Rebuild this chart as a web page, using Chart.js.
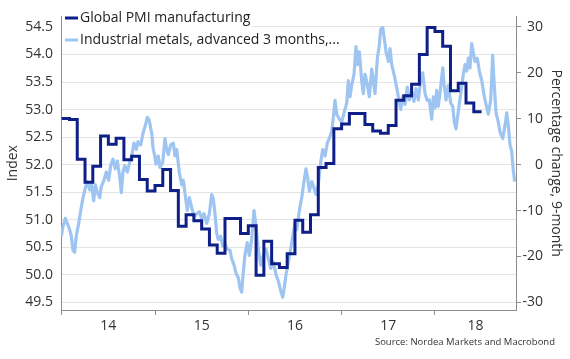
<!DOCTYPE html>
<html><head><meta charset="utf-8">
<script src="https://cdn.jsdelivr.net/npm/chart.js@4.4.0/dist/chart.umd.min.js"></script>
<style>html,body{margin:0;padding:0;background:#fff;}#wrap{width:570px;height:359px;position:relative;}</style>
</head><body><div id="wrap"><canvas id="c" width="570" height="359"></canvas></div>
<script>
// ---------- data ----------
const yearTicks = [2014, 2015, 2016, 2017, 2018];
const yearLabels = ['14', '15', '16', '17', '18'];
const leftTicks = [49.5, 50, 50.5, 51, 51.5, 52, 52.5, 53, 53.5, 54, 54.5];
const rightTicks = [-30, -20, -10, 0, 10, 20, 30];
const legendLabels = ['Global PMI manufacturing', 'Industrial metals, advanced 3 months,...'];
const leftTitle = 'Index';
const rightTitle = 'Percentage change, 9-month';
const sourceText = 'Source: Nordea Markets and Macrobond';

// Global PMI manufacturing, monthly from Jan 2014 (index, left axis)
const pmiStartYear = 2014;
const pmiValues = [
  52.84, 52.82, 52.10, 51.68, 51.97, 52.52, 52.37, 52.48, 52.09, 52.15, 51.73, 51.52,
  51.62, 51.91, 51.53, 50.88, 51.09, 50.98, 50.83, 50.54, 50.39, 51.02, 51.02, 50.75,
  50.89, 49.99, 50.61, 50.20, 50.13, 50.38, 50.99, 50.77, 51.09, 51.95, 52.02, 52.65,
  52.74, 52.93, 52.93, 52.73, 52.61, 52.57, 52.71, 53.17, 53.25, 53.46, 54.00, 54.49,
  54.42, 54.15, 53.34, 53.48, 53.12, 52.96
];

// Industrial metals, advanced 3 months (% change 9-month, right axis)
const metalsDates = [
  2013.996,2014.014,2014.039,2014.060,2014.086,2014.103,2014.121,2014.139,2014.156,2014.182,
  2014.204,2014.228,2014.253,2014.274,2014.300,2014.317,2014.343,2014.360,2014.382,2014.407,
  2014.424,2014.453,2014.478,2014.504,2014.525,2014.550,2014.574,2014.596,2014.622,2014.639,
  2014.657,2014.675,2014.703,2014.729,2014.753,2014.775,2014.800,2014.818,2014.847,2014.871,
  2014.896,2014.917,2014.936,2014.965,2014.979,2014.997,2015.011,2015.035,2015.054,2015.083,
  2015.107,2015.125,2015.143,2015.168,2015.196,2015.214,2015.233,2015.260,2015.286,2015.303,
  2015.332,2015.346,2015.368,2015.393,2015.418,2015.447,2015.475,2015.501,2015.525,2015.554,
  2015.582,2015.608,2015.625,2015.643,2015.661,2015.678,2015.704,2015.726,2015.750,2015.775,
  2015.804,2015.822,2015.847,2015.868,2015.893,2015.911,2015.929,2015.946,2015.965,2015.989,
  2016.011,2016.036,2016.061,2016.083,2016.107,2016.133,2016.161,2016.190,2016.214,2016.240,
  2016.268,2016.297,2016.322,2016.347,2016.369,2016.386,2016.404,2016.429,2016.454,2016.476,
  2016.501,2016.519,2016.547,2016.572,2016.597,2016.618,2016.637,2016.654,2016.680,2016.704,
  2016.726,2016.750,2016.776,2016.797,2016.822,2016.847,2016.868,2016.894,2016.911,2016.929,
  2016.947,2016.975,2017.001,2017.026,2017.055,2017.072,2017.090,2017.108,2017.133,2017.154,
  2017.168,2017.190,2017.215,2017.233,2017.251,2017.275,2017.297,2017.323,2017.340,2017.358,
  2017.383,2017.404,2017.419,2017.441,2017.458,2017.476,2017.501,2017.519,2017.537,2017.562,
  2017.583,2017.608,2017.633,2017.655,2017.680,2017.704,2017.726,2017.751,2017.776,2017.797,
  2017.822,2017.848,2017.869,2017.894,2017.918,2017.940,2017.966,2017.983,2018.001,2018.019,
  2018.036,2018.062,2018.084,2018.098,2018.119,2018.144,2018.169,2018.191,2018.208,2018.226,
  2018.244,2018.262,2018.287,2018.304,2018.323,2018.341,2018.358,2018.376,2018.394,2018.412,
  2018.430,2018.454,2018.476,2018.502,2018.526,2018.548,2018.572,2018.598,2018.619,2018.633,
  2018.655,2018.680,2018.698,2018.727,2018.751,2018.770,2018.787,2018.805,2018.823,2018.840,
  2018.855
];
const metalsValues = [
  -15.6,-13.5,-11.7,-12.8,-14.2,-15.6,-18.7,-19.1,-15.6,-12.8,
  -10.0,-7.2,-5.1,-3.7,-5.5,-4.0,-7.9,-4.4,-6.1,-7.2,
  -4.8,-3.4,-1.6,-3.4,-0.2,1.2,-0.9,0.8,-2.7,-6.1,
  -1.6,-0.2,-1.6,0.5,2.2,4.7,3.3,5.0,4.3,6.8,
  8.5,10.3,9.8,6.8,3.6,1.9,0.1,1.9,-0.6,0.5,
  5.7,3.3,2.2,4.3,4.7,1.9,3.3,-1.6,-4.4,-3.4,
  -7.9,-10.0,-7.2,-9.3,-11.4,-10.7,-10.3,-11.7,-10.7,-12.8,
  -10.7,-6.5,-7.5,-10.7,-14.9,-16.3,-15.6,-17.7,-17.3,-18.4,
  -18.7,-20.5,-21.9,-23.6,-24.7,-26.8,-27.8,-23.5,-19.5,-17.0,
  -19.8,-16.3,-10.0,-13.5,-18.4,-21.9,-19.8,-18.4,-20.5,-22.6,
  -21.2,-24.0,-25.4,-27.5,-28.9,-26.8,-24.0,-21.2,-18.4,-15.6,
  -12.8,-14.2,-10.0,-7.2,-3.7,-0.9,-3.0,-5.8,-3.7,-5.1,
  -6.5,-4.4,0.5,3.3,1.9,4.7,5.7,7.3,10.3,14.0,
  11.0,10.0,9.2,11.3,13.4,18.3,14.8,17.3,19.7,25.7,
  21.8,24.6,18.3,15.5,19.7,17.6,14.8,20.8,18.3,15.5,
  23.2,26.0,29.5,29.9,27.4,24.6,22.5,25.3,21.8,19.7,
  17.6,14.8,12.0,14.8,13.1,16.9,14.1,15.9,13.8,16.6,
  14.1,18.3,20.0,15.5,14.0,14.1,9.9,14.8,12.4,16.2,
  12.7,16.9,21.1,17.6,14.1,17.3,13.4,12.7,9.2,7.8,
  10.6,13.4,16.9,19.7,21.8,20.4,23.2,21.1,26.4,24.3,
  22.5,23.2,20.4,18.3,15.2,13.1,11.0,14.1,23.9,18.3,
  11.3,9.2,7.1,5.7,8.5,11.3,8.5,4.3,2.9,-1.3,
  -3.7
];

// ---------- styling / layout ----------
const FONT = '"Open Sans", "DejaVu Sans", sans-serif';
const pmiColor = '#0e1f88';
const metalsColor = '#9ec5f2';
const axisColor = '#8c8c8c';
const gridColor = '#e4e4e4';
const textColor = '#333333';
const xMin = 2013.9925, xMax = 2018.869;

// PMI points: each month value spans its month (step line)
const pmiPoints = pmiValues.map((v, i) => ({x: pmiStartYear + i / 12, y: v}));
pmiPoints.push({x: pmiStartYear + pmiValues.length / 12, y: pmiValues[pmiValues.length - 1]});
const metalsPoints = metalsDates.map((d, i) => ({x: d, y: metalsValues[i]}));

// x tick list: year boundaries (marks) + label positions (centre of visible year)
const xTickList = [];
yearTicks.forEach((y, i) => {
  xTickList.push({value: y, lab: null});
  const end = Math.min(y + 1, xMax);
  xTickList.push({value: (y + end) / 2, lab: yearLabels[i]});
});

const legendPlugin = {
  id: 'customLegend',
  afterDatasetsDraw(chart) {
    const ctx = chart.ctx;
    ctx.save();
    ctx.font = '14px ' + FONT;
    const rows = [{y: 18, color: pmiColor}, {y: 40, color: metalsColor}];
    legendLabels.forEach((t, i) => {
      const r = rows[i];
      const w = ctx.measureText(t).width;
      ctx.fillStyle = '#ffffff';
      ctx.fillRect(62, r.y - 10, 80 + w + 2 - 62, 20);
      ctx.strokeStyle = r.color;
      ctx.lineWidth = 3;
      ctx.beginPath();
      ctx.moveTo(65, r.y);
      ctx.lineTo(78, r.y);
      ctx.stroke();
      ctx.fillStyle = '#222222';
      ctx.textBaseline = 'middle';
      ctx.textAlign = 'left';
      ctx.fillText(t, 80, r.y + 0.5);
    });
    ctx.restore();
  },
  afterDraw(chart) {
    const ctx = chart.ctx;
    ctx.save();
    ctx.font = '9.5px ' + FONT;
    ctx.fillStyle = textColor;
    ctx.textAlign = 'right';
    ctx.textBaseline = 'middle';
    ctx.fillText(sourceText, 555, 342);
    ctx.restore();
  }
};

new Chart(document.getElementById('c'), {
  type: 'line',
  data: {
    datasets: [
      {
        label: legendLabels[0], data: pmiPoints, yAxisID: 'y', stepped: 'before',
        borderColor: pmiColor, borderWidth: 3, pointRadius: 0, fill: false,
        borderJoinStyle: 'miter', borderCapStyle: 'butt'
      },
      {
        label: legendLabels[1], data: metalsPoints, yAxisID: 'y2',
        borderColor: metalsColor, borderWidth: 3.2, pointRadius: 0, fill: false,
        tension: 0, borderJoinStyle: 'round'
      }
    ]
  },
  options: {
    responsive: false,
    animation: false,
    devicePixelRatio: 1,
    layout: {padding: {top: 5, left: 0, right: 27, bottom: 0}},
    plugins: {legend: {display: false}, tooltip: {enabled: false}},
    scales: {
      x: {
        type: 'linear', position: 'bottom', min: xMin, max: xMax,
        afterBuildTicks: s => { s.ticks = xTickList.map(t => ({value: t.value, lab: t.lab})); },
        afterFit: s => { s.height = 49; },
        ticks: {
          autoSkip: false, maxRotation: 0, minRotation: 0, padding: 3,
          color: textColor, font: {size: 14, family: FONT},
          callback: (v, i, ticks) => ticks[i].lab || ''
        },
        grid: {
          display: true, drawOnChartArea: false, drawTicks: true, tickLength: 5,
          color: axisColor,
          tickColor: ctx => (ctx.tick && ctx.tick.lab) ? 'rgba(0,0,0,0)' : axisColor
        },
        border: {display: true, color: axisColor, width: 1}
      },
      y: {
        type: 'linear', position: 'left', min: 49.36, max: 54.692,
        afterBuildTicks: s => { s.ticks = leftTicks.map(v => ({value: v})); },
        afterFit: s => { s.width = 61; },
        ticks: {
          padding: 8, color: textColor, font: {size: 14, family: FONT},
          callback: v => Number(v).toFixed(1)
        },
        grid: {display: true, drawOnChartArea: true, drawTicks: false, color: gridColor, lineWidth: 1},
        border: {display: true, color: axisColor, width: 1},
        title: {display: true, text: leftTitle, color: textColor, font: {size: 14, family: FONT}, padding: {top: 5, bottom: 0}}
      },
      y2: {
        type: 'linear', position: 'right', min: -31.68, max: 32.31,
        afterBuildTicks: s => { s.ticks = rightTicks.map(v => ({value: v})); },
        afterFit: s => { s.width = 27; },
        ticks: {
          padding: 2, crossAlign: 'far', color: textColor, font: {size: 14, family: FONT},
          callback: v => String(v)
        },
        grid: {display: true, drawOnChartArea: false, drawTicks: true, tickLength: 5, color: axisColor, tickColor: axisColor},
        border: {display: true, color: axisColor, width: 1},
        title: {display: true, text: rightTitle, color: textColor, font: {size: 14, family: FONT}, padding: {top: -21.4, bottom: 0}}
      }
    }
  },
  plugins: [legendPlugin]
});
</script></body></html>
